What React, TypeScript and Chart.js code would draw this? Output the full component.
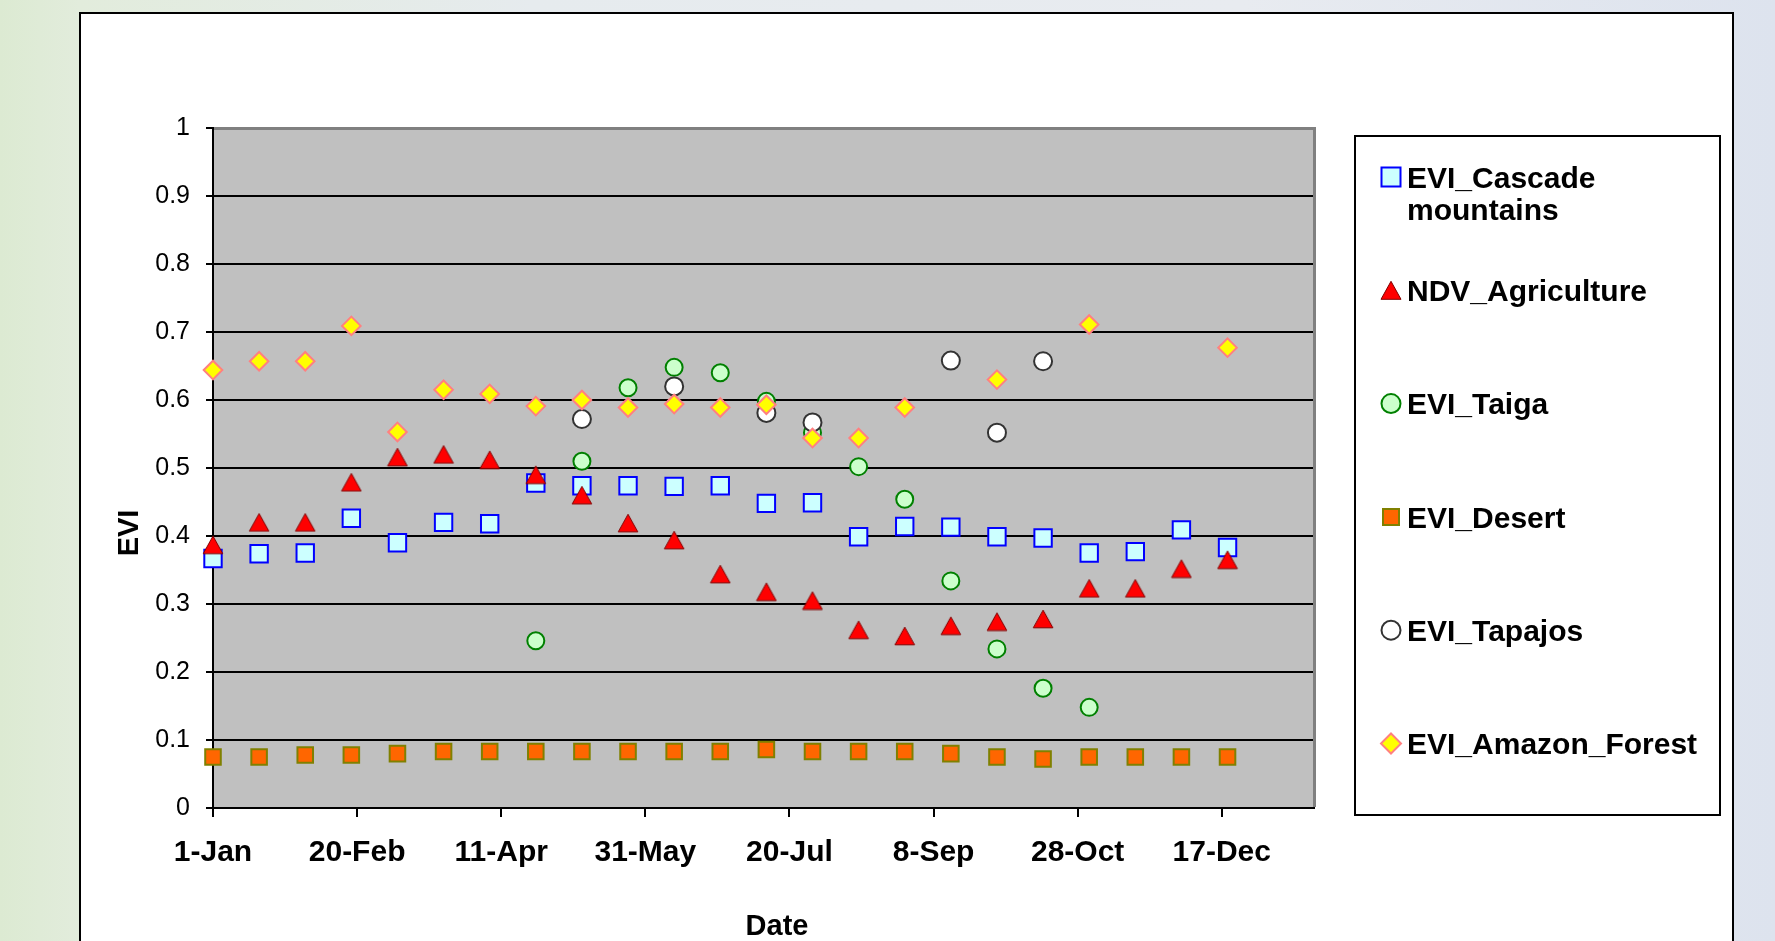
import React, { useEffect, useRef } from 'react';
import { Chart, registerables } from 'chart.js';

Chart.register(...registerables);

const FONT = '"Liberation Sans", Arial, Helvetica, sans-serif';

// Day of year of each 16-day composite
const days = [1, 17, 33, 49, 65, 81, 97, 113, 129, 145, 161, 177, 193, 209, 225, 241, 257, 273, 289, 305, 321, 337, 353];
const tickDays = [1, 51, 101, 151, 201, 251, 301, 351];
const tickLabels = ['1-Jan', '20-Feb', '11-Apr', '31-May', '20-Jul', '8-Sep', '28-Oct', '17-Dec'];
const xTitle = 'Date';
const yTitle = 'EVI';

const cascade = [0.367, 0.374, 0.375, 0.426, 0.390, 0.420, 0.418, 0.478, 0.474, 0.474, 0.473, 0.474, 0.448, 0.449, 0.399, 0.414, 0.413, 0.399, 0.397, 0.375, 0.377, 0.409, 0.383];
const agriculture = [0.387, 0.420, 0.420, 0.479, 0.516, 0.520, 0.512, 0.490, 0.460, 0.419, 0.394, 0.344, 0.318, 0.305, 0.262, 0.253, 0.268, 0.274, 0.278, 0.323, 0.323, 0.352, 0.365];
const taiga = [null, null, null, null, null, null, null, 0.246, 0.510, 0.618, 0.648, 0.640, 0.598, 0.552, 0.502, 0.454, 0.334, 0.234, 0.176, 0.148, null, null, null];
const desert = [0.075, 0.075, 0.078, 0.078, 0.080, 0.083, 0.083, 0.083, 0.083, 0.083, 0.083, 0.083, 0.086, 0.083, 0.083, 0.083, 0.080, 0.075, 0.072, 0.075, 0.075, 0.075, 0.075];
const tapajos = [null, null, null, null, null, null, null, null, 0.572, null, 0.620, null, 0.581, 0.567, null, null, 0.658, 0.552, 0.657, null, null, null, null];
const amazon = [0.644, 0.657, 0.657, 0.709, 0.553, 0.615, 0.609, 0.591, 0.600, 0.589, 0.594, 0.589, 0.593, 0.544, 0.544, 0.589, null, 0.630, null, 0.711, null, null, 0.677];

type Series = {
  label: string;
  lines: string[];
  values: (number | null)[];
  style: string;
  radius: number;
  bg: string;
  border: string;
  bw: number;
  legendSize: number;
};

const series: Series[] = [
  { label: 'EVI_Cascade mountains', lines: ['EVI_Cascade', 'mountains'], values: cascade, style: 'rect', radius: 12.3, bg: '#CCFFFF', border: '#0000FF', bw: 2, legendSize: 19 },
  { label: 'NDV_Agriculture', lines: ['NDV_Agriculture'], values: agriculture, style: 'triangle', radius: 10.5, bg: '#FF0000', border: '#800000', bw: 1, legendSize: 20 },
  { label: 'EVI_Taiga', lines: ['EVI_Taiga'], values: taiga, style: 'circle', radius: 8.5, bg: '#CCFFCC', border: '#008000', bw: 2, legendSize: 19 },
  { label: 'EVI_Desert', lines: ['EVI_Desert'], values: desert, style: 'rect', radius: 11, bg: '#FF6600', border: '#808000', bw: 2, legendSize: 16 },
  { label: 'EVI_Tapajos', lines: ['EVI_Tapajos'], values: tapajos, style: 'circle', radius: 9, bg: '#FFFFFF', border: '#333333', bw: 2, legendSize: 19 },
  { label: 'EVI_Amazon_Forest', lines: ['EVI_Amazon_Forest'], values: amazon, style: 'rectRot', radius: 9.3, bg: '#FFFF00', border: '#FF8080', bw: 2, legendSize: 20 },
];

function drawMarker(ctx: CanvasRenderingContext2D, s: Series, x: number, y: number, size: number) {
  const h = size / 2;
  ctx.save();
  ctx.fillStyle = s.bg;
  ctx.strokeStyle = s.border;
  ctx.lineWidth = s.bw;
  ctx.beginPath();
  if (s.style === 'rect') {
    ctx.rect(x - h, y - h, 2 * h, 2 * h);
  } else if (s.style === 'circle') {
    ctx.arc(x, y, h, 0, Math.PI * 2);
  } else if (s.style === 'triangle') {
    ctx.moveTo(x, y - h * 0.9);
    ctx.lineTo(x + h, y + h * 0.9);
    ctx.lineTo(x - h, y + h * 0.9);
    ctx.closePath();
  } else {
    ctx.moveTo(x, y - h);
    ctx.lineTo(x + h, y);
    ctx.lineTo(x, y + h);
    ctx.lineTo(x - h, y);
    ctx.closePath();
  }
  ctx.fill();
  ctx.stroke();
  ctx.restore();
}

// Triangle marker image, centred on its bounding box (as in the source chart)
function makeTriangleImage(s: Series): HTMLCanvasElement {
  const c = document.createElement('canvas');
  c.width = 22;
  c.height = 20;
  const ctx = c.getContext('2d') as CanvasRenderingContext2D;
  drawMarker(ctx, s, 11, 10, 19.6);
  return c;
}

const framePlugin = {
  id: 'frameAndLegend',
  beforeDraw(chart: any) {
    const { ctx, chartArea } = chart;
    const { left, top, right, bottom } = chartArea;
    ctx.save();
    ctx.fillStyle = '#C0C0C0';
    ctx.fillRect(left, top, right - left, bottom - top);
    ctx.restore();
  },
  afterDraw(chart: any) {
    const { ctx, chartArea } = chart;
    const { left, top, right, bottom } = chartArea;
    ctx.save();
    ctx.strokeStyle = '#808080';
    ctx.lineWidth = 3;
    ctx.beginPath();
    ctx.moveTo(left + 1, top + 0.5);
    ctx.lineTo(right + 0.5, top + 0.5);
    ctx.lineTo(right + 0.5, bottom - 1);
    ctx.stroke();
    ctx.restore();

    // Axis titles
    ctx.save();
    ctx.fillStyle = '#000000';
    ctx.font = 'bold 29px ' + FONT;
    ctx.textAlign = 'center';
    ctx.textBaseline = 'middle';
    ctx.fillText(xTitle, left + 564, bottom + 119);
    ctx.translate(left - 83, top + 405);
    ctx.rotate(-Math.PI / 2);
    ctx.fillText(yTitle, 0, 0);
    ctx.restore();

    // Legend box
    const bx = right + 41;
    const by = top + 8;
    const bw = 365;
    const bh = 679;
    ctx.save();
    ctx.fillStyle = '#FFFFFF';
    ctx.fillRect(bx, by, bw, bh);
    ctx.strokeStyle = '#000000';
    ctx.lineWidth = 2;
    ctx.strokeRect(bx, by, bw, bh);
    ctx.fillStyle = '#000000';
    ctx.font = 'bold 30px ' + FONT;
    ctx.textAlign = 'left';
    ctx.textBaseline = 'alphabetic';
    const markerX = bx + 36;
    const textX = bx + 52;
    series.forEach((s, i) => {
      const cy = top + 49 + i * 113.3;
      drawMarker(ctx, s, markerX, cy, s.legendSize);
      s.lines.forEach((line, j) => {
        ctx.fillText(line, textX, cy + 10.7 + j * 32.7);
      });
    });
    ctx.restore();
  },
};

export default function App() {
  const ref = useRef<HTMLCanvasElement>(null);

  useEffect(() => {
    document.body.style.margin = '0';
    const canvas = ref.current;
    if (!canvas) return;
    Chart.defaults.font.family = FONT;

    const toPoints = (vals: (number | null)[]) =>
      days
        .map((d, i) => (vals[i] == null ? null : { x: d, y: vals[i] as number }))
        .filter((p) => p !== null) as { x: number; y: number }[];

    const chart = new Chart(canvas, {
      type: 'scatter',
      data: {
        datasets: series.map((s, i) => ({
          label: s.label,
          data: toPoints(s.values),
          pointStyle: (s.style === 'triangle' ? makeTriangleImage(s) : s.style) as any,
          pointRadius: s.radius,
          pointHoverRadius: s.radius,
          backgroundColor: s.bg,
          borderColor: s.border,
          pointBorderWidth: s.bw,
          borderWidth: s.bw,
          showLine: false,
          clip: false,
          order: series.length - 1 - i,
        })),
      },
      options: {
        responsive: false,
        animation: false,
        events: [],
        layout: { padding: { left: 0, top: 114, right: 418, bottom: 25.6 } },
        plugins: {
          legend: { display: false },
          tooltip: { enabled: false },
          title: { display: false },
        },
        scales: {
          x: {
            type: 'linear',
            position: 'bottom',
            min: 1,
            max: 383,
            afterBuildTicks: (axis: any) => {
              axis.ticks = tickDays.map((v) => ({ value: v }));
            },
            afterFit: (axis: any) => {
              axis.height = 140.4;
            },
            ticks: {
              callback: (v: any) => {
                const idx = tickDays.indexOf(Number(v));
                return idx >= 0 ? tickLabels[idx] : '';
              },
              font: { size: 30, weight: 'bold', family: FONT },
              color: '#000000',
              padding: 18,
              maxRotation: 0,
              autoSkip: false,
            },
            grid: {
              drawOnChartArea: false,
              drawTicks: true,
              tickLength: 9,
              color: '#000000',
              lineWidth: 2,
            },
            border: { display: true, color: '#000000', width: 2 },
            title: { display: false },
          },
          y: {
            min: 0,
            max: 1,
            afterFit: (axis: any) => {
              axis.width = 132;
            },
            ticks: {
              stepSize: 0.1,
              font: { size: 25, family: FONT },
              color: '#000000',
              padding: 16,
              callback: (v: any) => String(Math.round(Number(v) * 10) / 10),
            },
            grid: { color: '#000000', lineWidth: 2, tickLength: 7 },
            border: { display: true, color: '#000000', width: 2 },
            title: { display: false },
          },
        },
      } as any,
      plugins: [framePlugin],
    });

    return () => {
      chart.destroy();
    };
  }, []);

  return (
    <div
      style={{
        position: 'relative',
        width: 1775,
        height: 941,
        overflow: 'hidden',
        background:
          'linear-gradient(90deg, #dcead2 0%, #e2ecdc 4.5%, #e6ebee 30%, #e8ebf0 70%, #dde3ee 100%)',
      }}
    >
      <div
        style={{
          position: 'absolute',
          left: 79,
          top: 12,
          width: 1655,
          height: 1000,
          background: '#ffffff',
          border: '2px solid #000000',
          boxSizing: 'border-box',
        }}
      />
      <canvas
        ref={ref}
        width={1651}
        height={960}
        style={{ position: 'absolute', left: 81, top: 14, display: 'block' }}
      />
    </div>
  );
}
